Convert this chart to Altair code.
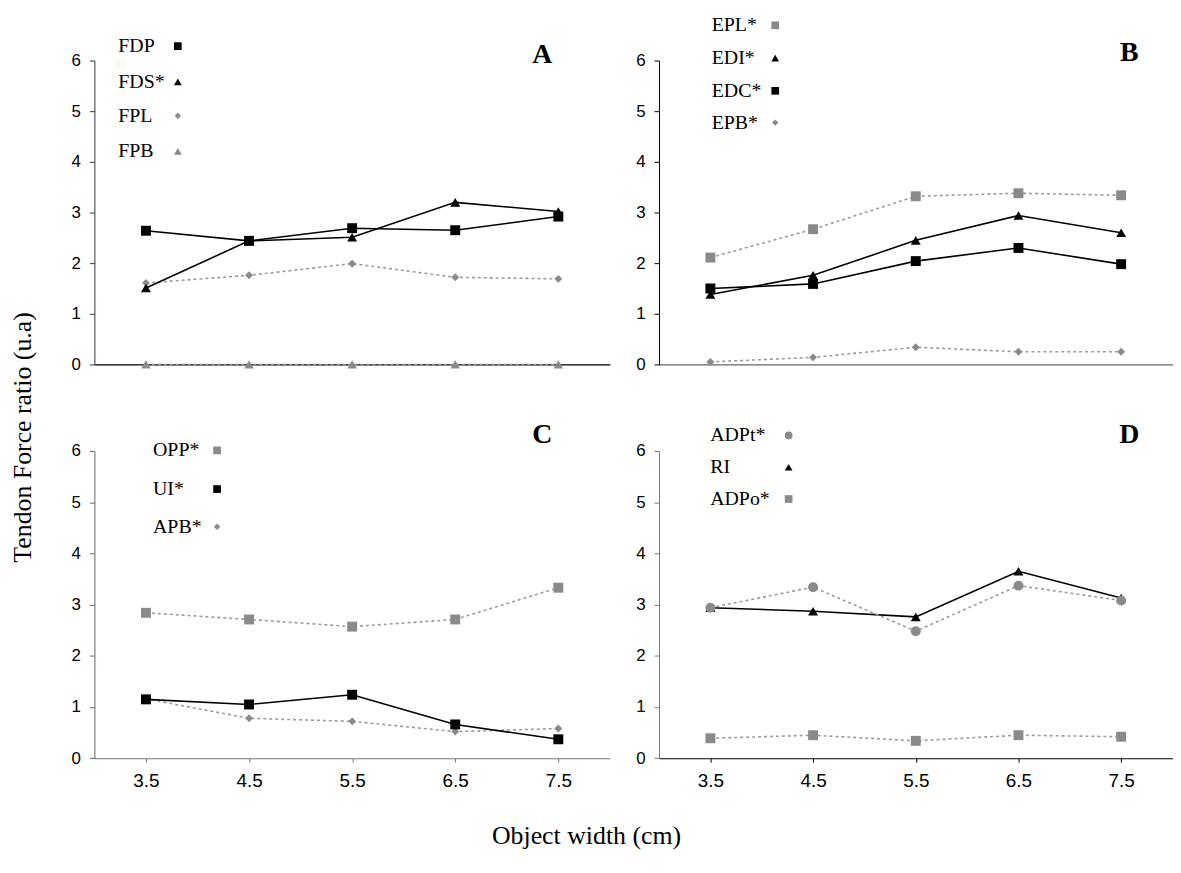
import altair as alt
import pandas as pd

# ---------------- data ----------------
widths = [3.5, 4.5, 5.5, 6.5, 7.5]
x_ticks = [3.5, 4.5, 5.5, 6.5, 7.5]
y_ticks = [0, 1, 2, 3, 4, 5, 6]

# Panel A
FDP = [2.64, 2.44, 2.69, 2.65, 2.92]
FDS = [1.51, 2.44, 2.51, 3.20, 3.02]
FPL = [1.61, 1.76, 1.99, 1.72, 1.69]
FPB = [0.0, 0.0, 0.0, 0.0, 0.0]
# Panel B
EPL = [2.11, 2.67, 3.32, 3.38, 3.34]
EDI = [1.38, 1.76, 2.45, 2.94, 2.60]
EDC = [1.50, 1.59, 2.04, 2.30, 1.98]
EPB = [0.05, 0.14, 0.34, 0.25, 0.25]
# Panel C
OPP = [2.84, 2.71, 2.57, 2.71, 3.33]
UI = [1.15, 1.05, 1.24, 0.66, 0.37]
APB = [1.16, 0.78, 0.72, 0.52, 0.58]
# Panel D
ADPt = [2.94, 3.34, 2.48, 3.37, 3.08]
RI = [2.94, 2.87, 2.76, 3.65, 3.13]
ADPo = [0.39, 0.45, 0.34, 0.45, 0.42]

SERIF = "Liberation Serif"
SANS = "Liberation Sans"
GRAY = "#8a8a8a"
LINEGRAY = "#9a9a9a"
BLACK = "#000000"

# geometry (page pixels)
COL1_L, COL2_L = 94.5, 663.0
ROW1_T, ROW2_T = 57.5, 450.6
W1, W2 = 519.0, 517.0
H1, H2 = 306.0, 309.4


def make_panel(series, letter, legend_pos, letter_pos, left, top, w, h,
               bottom, ycol, xcol, extra=None):
    xs = alt.Scale(domain=[3, 8], nice=False, zero=False)
    ys = alt.Scale(domain=[0, 6], nice=False)
    yax = alt.Axis(values=y_ticks, format="d", title=None, grid=False,
                   domainColor=ycol, tickColor=ycol, tickSize=5,
                   labelPadding=9, labelFont=SANS, labelFontSize=17,
                   labelColor="black", domainWidth=1, tickWidth=1)
    if bottom:
        xax = alt.Axis(values=x_ticks, format=".1f", title=None, grid=False,
                       domainColor=xcol, tickColor=xcol, tickSize=4,
                       labelPadding=9, labelFont=SANS, labelFontSize=19,
                       labelColor="black", domainWidth=1.2, tickWidth=1,
                       labelFlush=False)
    else:
        xax = alt.Axis(values=x_ticks, labels=False, ticks=False, title=None,
                       grid=False, domainColor=xcol, domainWidth=1.2)
    layers = []
    tx, mx = legend_pos
    for (name, vals, shape, color, dotted, size, lsize, ly) in series:
        df = pd.DataFrame({"x": widths, "y": vals})
        enc = dict(x=alt.X("x:Q", scale=xs, axis=xax),
                   y=alt.Y("y:Q", scale=ys, axis=yax))
        if dotted:
            line = alt.Chart(df).mark_line(color=LINEGRAY, strokeWidth=1.6,
                                           strokeDash=[3, 3]).encode(**enc)
        else:
            line = alt.Chart(df).mark_line(color=BLACK, strokeWidth=1.6).encode(**enc)
        pts = alt.Chart(df).mark_point(shape=shape, filled=True, size=size,
                                       color=color, opacity=1).encode(**enc)
        layers += [line, pts]
        lab = pd.DataFrame({"t": [name]})
        layers.append(alt.Chart(lab).mark_text(align="left", baseline="middle",
                                               font=SERIF, fontSize=20, color="black")
                      .encode(text="t:N", x=alt.value(tx - left), y=alt.value(ly - top)))
        layers.append(alt.Chart(lab).mark_point(shape=shape, filled=True, size=lsize,
                                                color=color, opacity=1)
                      .encode(x=alt.value(mx - left), y=alt.value(ly - top)))
    ldf = pd.DataFrame({"t": [letter]})
    layers.append(alt.Chart(ldf).mark_text(align="center", baseline="middle", font=SERIF,
                                           fontSize=28, fontWeight="bold", color="black")
                  .encode(text="t:N", x=alt.value(letter_pos[0] - left),
                          y=alt.value(letter_pos[1] - top)))
    if extra:
        layers += extra
    return alt.layer(*layers).properties(width=w, height=h)


# invisible anchor fixing the top-left corner of the drawing at the page margin
anchor = alt.Chart(pd.DataFrame({"a": [0]})).mark_rule(color="white", opacity=0).encode(
    x=alt.value(8 - COL1_L), x2=alt.value(8 - COL1_L + 2),
    y=alt.value(8 - ROW1_T), y2=alt.value(8 - ROW1_T + 2))

ytitle = alt.Chart(pd.DataFrame({"t": ["Tendon Force ratio (u.a)"]})).mark_text(
    align="center", baseline="middle", angle=270, font=SERIF, fontSize=26, color="black"
).encode(text="t:N", x=alt.value(22.5 - COL1_L), y=alt.value(437 - ROW2_T))

xtitle = alt.Chart(pd.DataFrame({"t": ["Object width (cm)"]})).mark_text(
    align="center", baseline="middle", font=SERIF, fontSize=26, color="black"
).encode(text="t:N", x=alt.value(590 - COL1_L), y=alt.value(838 - ROW2_T))

panelA = make_panel(
    [("FPB", FPB, "triangle-up", GRAY, True, 90, 60, 149),
     ("FPL", FPL, "diamond", GRAY, True, 64, 42, 113),
     ("FDS*", FDS, "triangle-up", BLACK, False, 100, 60, 79),
     ("FDP", FDP, "square", BLACK, False, 100, 60, 43)],
    "A", (118.5, 178.5), (545.5, 52), COL1_L, ROW1_T, W1, H1, False, "#333333", "#000000",
    extra=[anchor])

panelB = make_panel(
    [("EPB*", EPB, "diamond", GRAY, True, 64, 42, 120),
     ("EPL*", EPL, "square", GRAY, True, 100, 60, 22),
     ("EDI*", EDI, "triangle-up", BLACK, False, 100, 60, 55),
     ("EDC*", EDC, "square", BLACK, False, 100, 60, 88)],
    "B", (716, 780), (1136.5, 50), COL2_L, ROW1_T, W2, H1, False, "#000000", "#666666")

panelC = make_panel(
    [("OPP*", OPP, "square", GRAY, True, 100, 60, 450),
     ("APB*", APB, "diamond", GRAY, True, 64, 42, 527),
     ("UI*", UI, "square", BLACK, False, 100, 60, 489)],
    "C", (153.5, 218), (545.5, 435), COL1_L, ROW2_T, W1, H2, True, "#666666", "#777777",
    extra=[ytitle, xtitle])

panelD = make_panel(
    [("ADPo*", ADPo, "square", GRAY, True, 100, 60, 499),
     ("RI", RI, "triangle-up", BLACK, False, 100, 60, 467),
     ("ADPt*", ADPt, "circle", GRAY, True, 100, 60, 435)],
    "D", (714.5, 793.5), (1136.5, 435), COL2_L, ROW2_T, W2, H2, True, "#777777", "#000000")

col_gap = COL2_L - (COL1_L + W1)
row_gap = ROW2_T - (ROW1_T + H1)

chart = alt.concat(
    panelA, panelB, panelC, panelD, columns=2,
    spacing=alt.RowColnumber(row=row_gap, column=col_gap), bounds="flush"
).properties(padding=0, background="white").configure_view(stroke=None)

chart.save("out.html", embed_options={"renderer": "svg", "actions": False})
